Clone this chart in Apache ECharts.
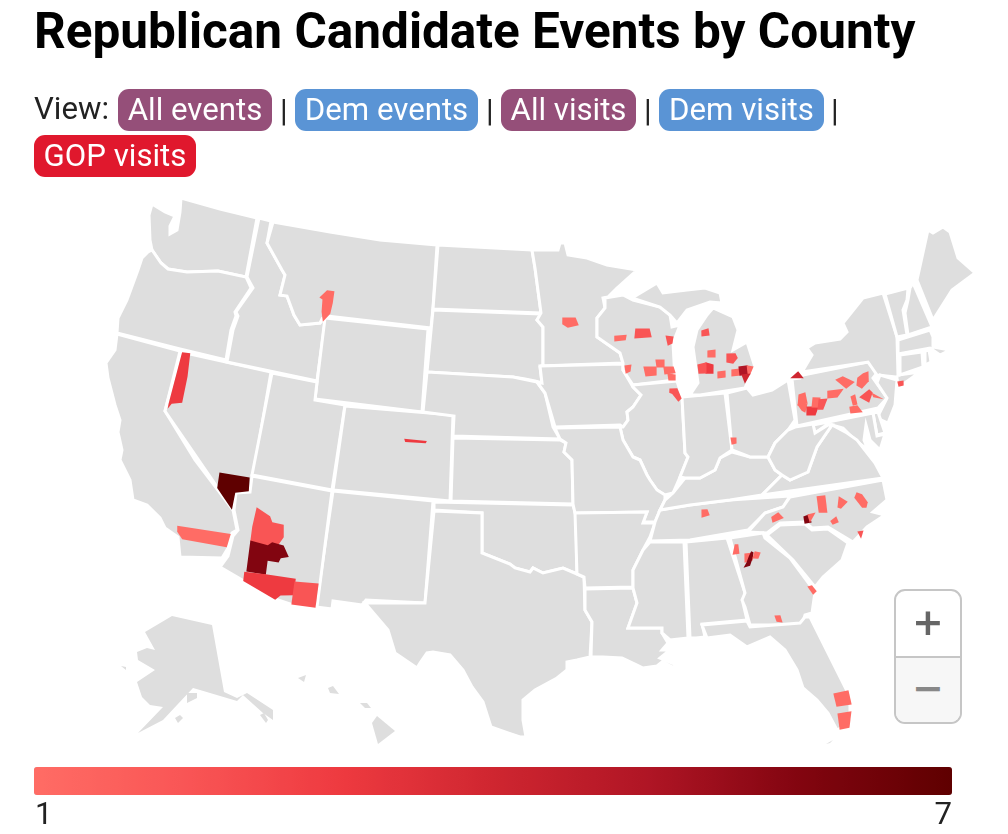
<!DOCTYPE html>
<html><head><meta charset="utf-8">
<script src="https://cdn.jsdelivr.net/npm/echarts@6/dist/echarts.min.js"></script>
<style>
html,body{margin:0;padding:0;background:#fff;width:1008px;height:834px;overflow:hidden;font-family:Roboto,sans-serif;color:#222}
#chart{position:absolute;left:0;top:0;width:1008px;height:834px}
.t{position:absolute;white-space:nowrap}
#title{left:34px;top:0;font-size:49.5px;line-height:62px;font-weight:700;color:#000}
.btn{position:absolute;color:#fff;border-radius:11px;font-size:31.2px;line-height:41px;height:42px;text-align:center;white-space:nowrap}
.sep,.lab{position:absolute;font-size:31.2px;line-height:42px;white-space:nowrap;color:#222}
#zoom{position:absolute;left:894px;top:589px;width:64px;height:131px;border:2px solid #c6c6c6;border-radius:11px;overflow:hidden;background:#fff}
#zoom div{position:absolute;left:0;width:64px;text-align:center;font-family:"DejaVu Sans",sans-serif;font-weight:700;font-size:38px}
</style></head><body>
<div id="chart"></div>
<div id="title" class="t">Republican Candidate Events by County</div>
<div id="controls"></div>
<div id="zoom">
 <div style="top:0;height:65px;line-height:62px;color:#666;border-bottom:2px solid #c6c6c6">+</div>
 <div style="top:67px;height:64px;line-height:60px;color:#888;background:#f7f7f7">−</div>
</div>
<script>
const viewLabels=["All events","Dem events","All visits","Dem visits","GOP visits"];
const viewColors=["#954f79","#5a94d5","#954f79","#5a94d5","#e0182d"];
const viewLeft=[118,295,501,659,34];
const viewWidth=[154,183,135,165,162];
const viewTop=[89,89,89,89,135];
const legendEnds=["1","7"];
const rampColors=["#ff6c65","#f95555","#ee3a40","#cf2630","#b01525","#820510","#5f0000"];

const stateNames=["WA","OR","CA","NV","ID","MT","WY","UT","CO","NM","AZ","ND","SD","NE","KS","OK","TX","MN","IA","WI","IL","MO","AR","LA","MS","AL","TN","KY","IN","OH","MI","MIU","PA","NY","NJ","CT","RI","MA","VT","NH","ME","DE","MD","VA","WV","NC","SC","GA","FL","FK","AK","AK2","AK3","AK4","AK5","HI","HI2","HI3","HI4"];
const stateOutlines=[
[[152,204],[165,212],[175,216],[170,226],[170,234],[177,230],[180,212],[181,198],[220,209],[257,218],[246,277],[218,271],[187,272],[168,269],[161,263],[152,250],[150,240],[149,215]],
[[148,252],[152,250],[161,263],[168,269],[187,272],[218,271],[246,277],[251,288],[235,312],[236,316],[231,330],[226,360],[180,349],[117,333],[118,318],[127,300],[138,270],[142,258]],
[[117,334],[180,351],[165,411],[195,460],[233,510],[237,530],[232,533],[228,548],[222,558],[180,557],[178,537],[165,528],[160,518],[147,505],[133,500],[130,480],[120,460],[122,450],[118,432],[120,420],[115,405],[108,378],[106,363],[115,350]],
[[181,352],[271,372],[253,477],[250,492],[236,493],[233,510],[165,411]],
[[259,218],[271,221],[267,243],[282,270],[285,275],[280,295],[287,296],[294,315],[300,325],[320,323],[323,320],[325,322],[317,381],[227,362],[233,330],[238,316],[236,312],[253,288],[247,277]],
[[273,222],[330,232],[380,240],[437,245],[433,308],[431,328],[326,316],[325,321],[322,319],[320,323],[300,325],[294,315],[287,296],[280,295],[285,275],[282,270],[267,243]],
[[325,318],[428,329],[422,412],[315,399]],
[[272,373],[317,382],[315,400],[345,405],[332,490],[252,475]],
[[345,406],[453,415],[450,501],[333,490]],
[[333,491],[433,501],[425,603],[366,600],[362,605],[333,601],[332,609],[316,607]],
[[252,476],[332,491],[317,607],[293,605],[275,599],[244,581],[220,567],[228,556],[233,536],[238,530],[234,510],[236,493],[250,492]],
[[438,245],[532,250],[535,268],[541,313],[433,309]],
[[433,310],[541,314],[537,320],[543,327],[543,366],[540,367],[542,383],[535,381],[525,379],[513,377],[427,372]],
[[427,372],[513,377],[537,382],[545,393],[553,427],[560,439],[453,436],[454,416],[423,412]],
[[453,438],[560,440],[566,443],[564,452],[572,460],[573,504],[451,501]],
[[434,502],[573,505],[576,515],[577,574],[563,568],[543,573],[533,568],[530,572],[515,568],[510,564],[482,553],[482,513],[434,510]],
[[434,511],[482,513],[482,553],[510,564],[515,568],[530,572],[533,568],[543,573],[563,568],[577,574],[584,577],[585,610],[592,622],[590,657],[577,660],[567,662],[567,670],[557,678],[535,690],[523,700],[523,720],[526,737],[520,737],[508,733],[491,727],[483,702],[472,687],[463,670],[450,655],[433,652],[427,653],[420,663],[417,668],[395,653],[388,630],[365,603],[425,603]],
[[532,250],[558,250],[560,243],[565,243],[568,255],[587,258],[607,265],[637,270],[617,288],[608,297],[603,298],[605,308],[597,318],[597,337],[620,353],[623,363],[540,366],[543,366],[543,327],[537,320],[541,313],[535,268]],
[[540,366],[623,364],[623,370],[633,387],[641,395],[633,407],[627,412],[628,420],[623,427],[620,425],[555,427],[545,393],[537,382],[542,383]],
[[605,298],[623,295],[633,300],[660,307],[670,315],[672,327],[680,325],[673,343],[675,380],[633,385],[623,370],[623,363],[620,353],[597,337],[597,318],[605,308]],
[[633,385],[677,381],[682,397],[685,453],[688,457],[680,477],[673,493],[665,495],[657,490],[650,480],[647,475],[640,460],[633,457],[623,440],[620,427],[623,427],[628,420],[627,412],[633,407],[641,395],[633,387]],
[[555,428],[620,427],[623,440],[633,457],[640,460],[647,475],[650,480],[657,490],[665,495],[665,500],[660,510],[655,522],[643,522],[647,512],[575,513],[573,504],[572,460],[564,452],[566,443],[560,439]],
[[575,513],[647,512],[643,523],[655,523],[650,537],[643,550],[633,570],[633,587],[585,588],[584,577],[577,574]],
[[585,589],[633,588],[637,603],[628,628],[662,628],[662,633],[668,643],[662,650],[670,650],[660,658],[677,665],[673,667],[662,662],[657,666],[643,668],[637,665],[622,658],[603,657],[591,657],[592,622],[585,610]],
[[650,542],[684,542],[688,638],[670,640],[662,633],[662,628],[628,628],[637,603],[633,588],[633,570],[643,550]],
[[686,542],[727,538],[745,593],[743,603],[747,620],[702,624],[705,637],[696,638],[690,638]],
[[660,510],[690,505],[730,500],[790,496],[783,507],[765,513],[748,530],[690,540],[650,541],[655,522]],
[[665,500],[673,493],[685,478],[700,478],[715,470],[720,458],[732,452],[750,457],[768,457],[775,470],[782,475],[762,495],[730,500],[690,505],[660,510]],
[[682,397],[725,393],[732,450],[720,458],[715,470],[700,478],[685,478],[680,477],[688,457],[685,453]],
[[727,393],[747,388],[753,395],[772,390],[788,380],[795,420],[788,430],[775,443],[768,457],[750,457],[732,450]],
[[690,395],[698,383],[693,347],[697,330],[707,315],[713,308],[733,317],[738,330],[733,350],[747,342],[755,367],[747,383],[745,388],[700,395]],
[[632,298],[657,283],[663,293],[687,290],[705,288],[720,293],[722,303],[710,302],[687,310],[677,323],[670,315],[660,307]],
[[792,379],[800,378],[803,375],[868,362],[877,373],[873,378],[887,398],[878,408],[797,426]],
[[802,372],[812,355],[807,348],[815,343],[840,339],[847,332],[843,323],[863,298],[883,293],[897,337],[898,375],[920,372],[902,385],[897,385],[897,377],[877,375],[868,362]],
[[880,375],[897,380],[895,405],[888,423],[877,418],[887,398],[877,383]],
[[900,355],[922,352],[923,367],[900,375]],
[[925,351],[929,350],[931,362],[925,365]],
[[898,340],[930,330],[933,337],[933,347],[950,350],[940,355],[930,348],[898,354]],
[[885,294],[908,288],[907,300],[903,310],[907,335],[897,337]],
[[910,288],[913,283],[932,327],[908,335],[905,313],[908,300]],
[[917,280],[928,230],[933,233],[943,227],[950,232],[958,258],[975,273],[952,290],[933,320]],
[[873,413],[878,412],[885,433],[877,435]],
[[813,425],[873,413],[877,436],[885,434],[880,450],[870,440],[866,425],[864,440],[868,450],[855,440],[843,428],[828,424],[815,433]],
[[883,478],[762,495],[782,475],[790,480],[808,472],[817,447],[832,425],[847,433],[857,440],[875,463]],
[[795,427],[813,424],[815,433],[828,425],[832,425],[817,447],[808,472],[790,480],[782,475],[775,470],[768,457],[775,443],[788,430]],
[[883,480],[887,500],[873,512],[885,515],[867,527],[853,542],[828,527],[812,528],[805,522],[780,523],[767,533],[748,532],[765,513],[783,507],[790,497]],
[[767,535],[780,525],[805,524],[812,530],[828,529],[848,543],[842,560],[823,577],[815,587],[793,560]],
[[730,538],[763,533],[765,538],[790,558],[810,585],[815,592],[812,613],[805,615],[802,625],[750,625],[745,607],[742,600],[745,593]],
[[702,625],[747,621],[750,627],[800,623],[805,617],[810,617],[823,643],[840,677],[850,697],[850,723],[837,730],[828,713],[817,700],[803,688],[797,670],[785,650],[770,637],[747,647],[730,635],[707,638]],
[[826,744],[833,740],[830,743]],
[[172,616],[212,625],[224,692],[237,698],[247,693],[273,710],[273,720],[263,713],[243,695],[237,701],[200,690],[193,688],[177,705],[163,720],[138,733],[163,707],[150,705],[142,697],[137,682],[155,670],[138,660],[137,652],[147,648],[155,650],[145,632]],
[[187,703],[187,693],[197,693],[197,698]],
[[175,718],[180,715],[183,718],[178,723]],
[[121,666],[126,667],[126,670]],
[[260,715],[264,713],[268,720],[266,723]],
[[377,716],[395,731],[378,744],[372,723]],
[[360,703],[367,703],[371,708],[365,708]],
[[328,688],[333,686],[339,694],[330,693]],
[[298,678],[306,675],[304,682]]
];
const borderlessStates=["FK","AK","AK2","AK3","AK4","AK5","HI","HI2","HI3","HI4"];
const countyValues=[3,1,7,2,6,3,2,1,3,1,1,2,2,1,1,1,1,1,2,2,1,2,3,1,1,5,1,4,4,1,1,1,2,1,1,1,1,1,3,1,2,2,1,1,1,1,1,1,6,1,1,2,1,1,6,1,1,1,1,1,2];
const countyOutlines=[
[[182,353],[190,354],[187,377],[182,402],[172,403],[168,408],[169,403]],
[[178,526],[230,534],[226,547],[183,539],[178,532]],
[[220,473],[249,478],[248,491],[235,492],[232,509],[218,488]],
[[257,508],[270,517],[272,523],[283,525],[283,537],[278,544],[270,545],[265,546],[251,541],[253,527]],
[[251,541],[268,546],[272,543],[283,546],[288,557],[280,558],[278,562],[268,560],[266,574],[247,571]],
[[245,572],[266,575],[295,579],[293,595],[280,595],[275,599],[244,581]],
[[295,582],[318,584],[315,607],[292,604]],
[[327,291],[334,292],[332,303],[330,313],[323,321],[322,311],[323,300],[320,298]],
[[405,439],[426,441],[425,443],[406,442]],
[[563,318],[575,318],[578,325],[568,327],[563,324]],
[[615,336],[626,335],[625,340],[615,341]],
[[636,329],[649,329],[651,337],[635,338]],
[[666,336],[673,337],[672,343],[668,345]],
[[625,366],[631,365],[630,371],[626,373]],
[[644,367],[656,367],[656,375],[646,376]],
[[656,360],[664,360],[664,367],[657,367]],
[[664,367],[673,367],[675,373],[665,374]],
[[668,374],[675,375],[675,380],[669,380]],
[[670,389],[677,389],[681,398],[678,401],[673,394],[670,393]],
[[702,331],[708,329],[709,335],[702,336]],
[[708,351],[715,350],[715,357],[708,357]],
[[727,354],[735,354],[737,358],[733,363],[727,362]],
[[706,363],[713,365],[713,373],[706,373]],
[[718,372],[725,371],[725,377],[718,378]],
[[732,370],[739,369],[740,375],[732,376]],
[[739,367],[747,366],[748,374],[740,375]],
[[747,366],[753,367],[750,374],[748,374]],
[[742,375],[750,374],[745,383]],
[[791,378],[798,372],[803,378]],
[[836,380],[843,377],[854,382],[846,388]],
[[863,374],[868,372],[868,381],[862,388],[857,385],[858,378]],
[[828,391],[843,389],[837,397],[828,398]],
[[860,397],[869,390],[872,393],[869,402]],
[[872,393],[883,399],[874,397]],
[[851,397],[855,395],[857,404],[853,405]],
[[850,407],[857,406],[862,412],[851,413]],
[[799,395],[805,393],[807,403],[798,405]],
[[798,405],[807,404],[805,412],[802,410]],
[[807,407],[818,407],[815,415],[807,415]],
[[813,398],[820,398],[819,407],[812,407]],
[[819,400],[827,399],[823,409],[818,409]],
[[898,382],[903,381],[903,385],[899,386]],
[[731,438],[736,438],[736,443],[732,444]],
[[702,510],[707,510],[709,515],[702,517]],
[[817,497],[825,496],[827,512],[819,512]],
[[839,497],[847,502],[841,508],[838,507]],
[[857,493],[862,495],[867,502],[866,507],[862,507],[855,498]],
[[772,517],[778,513],[783,518],[773,522]],
[[804,517],[809,515],[811,522],[805,523]],
[[808,515],[815,513],[810,522]],
[[831,521],[836,517],[838,522],[833,524]],
[[858,532],[863,531],[861,538]],
[[735,545],[738,545],[739,553],[733,554]],
[[745,554],[753,553],[752,560],[745,562]],
[[751,552],[753,553],[752,558],[750,565],[744,567],[747,562],[749,557]],
[[755,552],[760,553],[758,558],[753,558]],
[[808,587],[812,586],[816,591],[813,594]],
[[775,616],[780,616],[782,622],[777,621]],
[[834,694],[848,691],[851,704],[837,706]],
[[838,714],[851,712],[849,727],[840,729]],
[[698,365],[706,363],[706,373],[699,373]]
];

// controls
const ctl=document.getElementById('controls');
viewLabels.forEach((s,i)=>{const d=document.createElement('div');d.className='btn';d.textContent=s;
 d.style.cssText=`left:${viewLeft[i]}px;top:${viewTop[i]}px;width:${viewWidth[i]}px;background:${viewColors[i]}`;ctl.appendChild(d);});
[["View:",34,88],["|",280,90],["|",486,90],["|",644,90],["|",831,90]].forEach(a=>{const d=document.createElement('div');d.className='sep';d.textContent=a[0];
 d.style.left=a[1]+'px';d.style.top=a[2]+'px';ctl.appendChild(d);});
[[legendEnds[0],"left:35px"],[legendEnds[1],"right:56px"]].forEach(a=>{const d=document.createElement('div');d.className='lab';d.textContent=a[0];
 d.style.cssText=a[1]+';top:793px';ctl.appendChild(d);});

// map geometry: counties grown by a small margin so their edges meet as in the source shapes
const grow=(o,m)=>{const c=o.reduce((a,p)=>[a[0]+p[0]/o.length,a[1]+p[1]/o.length],[0,0]);
 return o.map(p=>{const dx=p[0]-c[0],dy=p[1]-c[1],l=Math.hypot(dx,dy)||1;return [p[0]+dx/l*m,p[1]+dy/l*m];});};
const ring=o=>[o.concat([o[0]])];
const features=[];
stateNames.forEach((n,i)=>features.push({type:'Feature',properties:{name:n},geometry:{type:'Polygon',coordinates:ring(stateOutlines[i])}}));
countyOutlines.forEach((o,i)=>features.push({type:'Feature',properties:{name:'county'+i},geometry:{type:'Polygon',coordinates:ring(grow(o,0.8))}}));
echarts.registerMap('us',{type:'FeatureCollection',features});

const chart=echarts.init(document.getElementById('chart'));
chart.setOption({
 animation:false,
 visualMap:{type:'continuous',min:1,max:7,orient:'horizontal',left:34,top:767,itemWidth:28,itemHeight:918,padding:0,borderRadius:0,
  calculable:false,realtime:false,showLabel:false,text:null,inRange:{color:rampColors},seriesIndex:0,hoverLink:false},
 series:[{type:'map',map:'us',left:106,top:198,width:869,height:546,aspectScale:1,
  projection:{project:p=>[p[0],p[1]],unproject:p=>[p[0],p[1]]},
  silent:true,label:{show:false},
  itemStyle:{areaColor:'#dedede',borderColor:'#ffffff',borderWidth:3},
  data:borderlessStates.map(n=>({name:n,itemStyle:{borderWidth:0}})).concat(
   countyValues.map((v,i)=>({name:'county'+i,value:v,itemStyle:{borderWidth:0}})))
 }]
});
</script>
</body></html>
